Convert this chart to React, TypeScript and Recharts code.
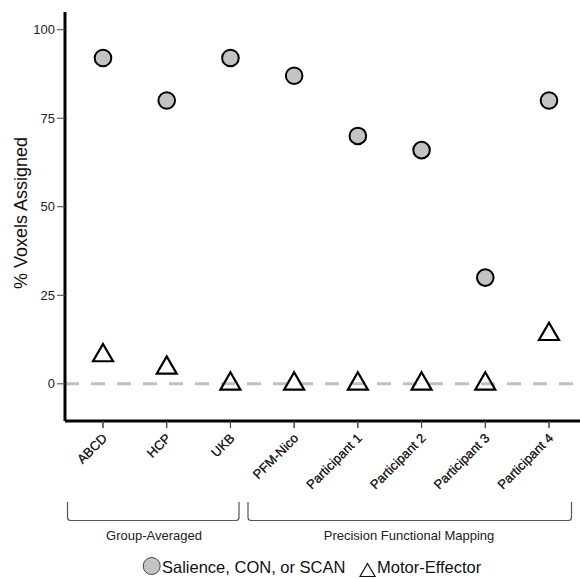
import React from 'react';
import { ScatterChart, Scatter, XAxis, YAxis, ReferenceLine } from 'recharts';

const categories = ['ABCD', 'HCP', 'UKB', 'PFM-Nico', 'Participant 1', 'Participant 2', 'Participant 3', 'Participant 4'];
const salience = [92, 80, 92, 87, 70, 66, 30, 80];
const motor = [8, 4.5, 0, 0, 0, 0, 0, 14];
const yTicks = [0, 25, 50, 75, 100];

const salienceData = categories.map((name, i) => ({ name, value: salience[i] }));
const motorData = categories.map((name, i) => ({ name, value: motor[i] }));

const FONT = '"Liberation Sans", Arial, Helvetica, sans-serif';

const CircleDot = (props: any) => {
  const { cx, cy } = props;
  return <circle cx={cx} cy={cy} r={8.3} fill="#c3c3c3" stroke="#000" strokeWidth={2} />;
};

const TriangleDot = (props: any) => {
  const { cx, cy } = props;
  const s = 20;
  const h = (s * Math.sqrt(3)) / 2;
  const d = `M${cx},${cy - (2 * h) / 3} L${cx + s / 2},${cy + h / 3} L${cx - s / 2},${cy + h / 3} Z`;
  return <path d={d} fill="none" stroke="#000" strokeWidth={2.2} strokeLinejoin="miter" />;
};

const XTick = (props: any) => {
  const { x, y, payload } = props;
  const ax = x + 5;
  const ay = y + 9;
  return (
    <text
      x={ax}
      y={ay}
      textAnchor="end"
      transform={`rotate(-45, ${ax}, ${ay})`}
      fontSize={13}
      fontFamily={FONT}
      fill="#222"
    >
      {payload.value}
    </text>
  );
};

const bracket = (x1: number, x2: number) => {
  const top = 502;
  const bot = 520.5;
  const r = 3;
  return `M${x1},${top} V${bot - r} Q${x1},${bot} ${x1 + r},${bot} H${x2 - r} Q${x2},${bot} ${x2},${bot - r} V${top}`;
};

export default function App() {
  return (
    <div style={{ position: 'absolute', left: 0, top: 0, width: 580, height: 579, background: '#fff' }}>
      <ScatterChart width={580} height={579} margin={{ top: 12, right: 0, bottom: 0, left: 0 }}>
        <XAxis
          dataKey="name"
          type="category"
          scale="point"
          allowDuplicatedCategory={false}
          padding={{ left: 38, right: 31 }}
          height={158}
          axisLine={{ stroke: '#000', strokeWidth: 3 }}
          tickLine={{ stroke: '#444', strokeWidth: 1 }}
          tickSize={7}
          tickMargin={2}
          interval={0}
          tick={<XTick />}
        />
        <YAxis
          dataKey="value"
          type="number"
          domain={[-10.5, 105]}
          allowDataOverflow
          ticks={yTicks}
          width={65}
          axisLine={{ stroke: '#000', strokeWidth: 3 }}
          tickLine={{ stroke: '#444', strokeWidth: 1 }}
          tickSize={8}
          tickMargin={2}
          tick={{ fontSize: 13, fontFamily: FONT, fill: '#222' }}
        />
        <ReferenceLine y={0} stroke="#c0c0c0" strokeWidth={3} strokeDasharray="14 12" />
        <Scatter name="Salience, CON, or SCAN" data={salienceData} shape={<CircleDot />} isAnimationActive={false} />
        <Scatter name="Motor-Effector" data={motorData} shape={<TriangleDot />} isAnimationActive={false} />
      </ScatterChart>
      <svg
        width={580}
        height={579}
        style={{ position: 'absolute', left: 0, top: 0, pointerEvents: 'none' }}
        fontFamily={FONT}
      >
        <text
          x={27}
          y={213}
          transform="rotate(-90, 27, 213)"
          textAnchor="middle"
          fontSize={18}
          fill="#111"
        >
          % Voxels Assigned
        </text>
        <path d={bracket(67.5, 239)} fill="none" stroke="#555" strokeWidth={1.2} />
        <path d={bracket(248, 571.5)} fill="none" stroke="#555" strokeWidth={1.2} />
        <text x={154} y={540} textAnchor="middle" fontSize={13} fill="#222">
          Group-Averaged
        </text>
        <text x={409} y={540} textAnchor="middle" fontSize={13} fill="#222">
          Precision Functional Mapping
        </text>
        <circle cx={151.7} cy={566} r={8.5} fill="#c3c3c3" stroke="#444" strokeWidth={1} />
        <text x={162} y={573} fontSize={16.5} fill="#111">
          Salience, CON, or SCAN
        </text>
        <path d="M367.5,563.5 L375,576.5 L360,576.5 Z" fill="none" stroke="#111" strokeWidth={1.2} />
        <text x={377} y={573} fontSize={16.5} fill="#111">
          Motor-Effector
        </text>
      </svg>
    </div>
  );
}
